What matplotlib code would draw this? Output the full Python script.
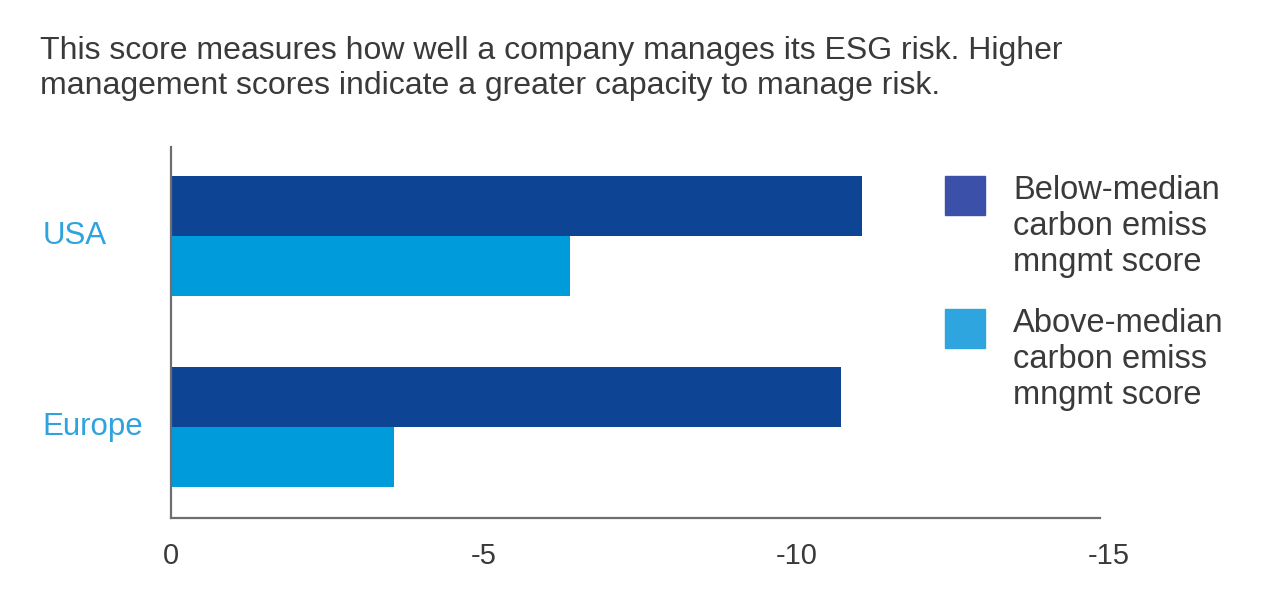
import matplotlib
matplotlib.use("Agg")
import matplotlib.pyplot as plt
import numpy as np
from matplotlib.patches import Rectangle
from matplotlib import font_manager

# --- data ---
regions = ["USA", "Europe"]
below_median = [-11.05, -10.72]
above_median = [-6.38, -3.57]
legend_labels = ["Below-median\ncarbon emiss\nmngmt score",
                 "Above-median\ncarbon emiss\nmngmt score"]
x_ticks = [0, -5, -10, -15]
x_ticklabels = ["0", "-5", "-10", "-15"]
subtitle = ("This score measures how well a company manages its ESG risk. Higher\n"
            "management scores indicate a greater capacity to manage risk.")

# --- style ---
DARK = "#0d4594"
LIGHT = "#009bda"
LEG_DARK = "#3b50a8"
LEG_LIGHT = "#2ea5de"
LABEL_BLUE = "#2ea3de"
TEXT = "#3a3a3a"

names = {f.name for f in font_manager.fontManager.ttflist}
narrow = "Liberation Sans Narrow" if "Liberation Sans Narrow" in names else "Liberation Sans"
plt.rcParams["font.family"] = ["Liberation Sans", "DejaVu Sans"]

fig = plt.figure(figsize=(12.8, 6.11), dpi=100)
ax = fig.add_axes([0.1336, 0.152, 0.7328, 0.607])

y = np.arange(len(regions))
h = 0.315
ax.barh(y - h / 2, below_median, height=h, color=DARK)
ax.barh(y + h / 2, above_median, height=h, color=LIGHT)

ax.set_xlim(0, -15)
ax.set_ylim(1.476, -0.466)
ax.set_xticks(x_ticks)
ax.set_xticklabels(x_ticklabels, fontsize=21, color=TEXT, family=[narrow, "DejaVu Sans"])
ax.tick_params(axis="x", length=0, pad=17)
ax.set_yticks([])
for s in ["top", "right"]:
    ax.spines[s].set_visible(False)
for s in ["left", "bottom"]:
    ax.spines[s].set_color("#6e6e6e")
    ax.spines[s].set_linewidth(1.6)
# bottom spine in the reference stops a little short of -15
ax.spines["bottom"].set_bounds(0, -14.85)

# category labels
for yi, name in zip(y, regions):
    ax.text(-0.137, yi, name, transform=ax.get_yaxis_transform(),
            ha="left", va="center", fontsize=22.5, color=LABEL_BLUE)

# subtitle
fig.text(40 / 1280, 1 - 36 / 611, subtitle, ha="left", va="top",
         fontsize=23, color=TEXT, linespacing=1.2)

# legend drawn by hand
for i, (lab, col) in enumerate(zip(legend_labels, [LEG_DARK, LEG_LIGHT])):
    top = 176 + i * 133
    fig.add_artist(Rectangle((945 / 1280, 1 - (top + 39) / 611), 40 / 1280, 39 / 611,
                             transform=fig.transFigure, color=col))
    fig.text(1013 / 1280, 1 - (top - 1) / 611, lab, ha="left", va="top",
             fontsize=23.5, color=TEXT, linespacing=1.2)

fig.savefig("out.png", dpi=100, facecolor="white")
